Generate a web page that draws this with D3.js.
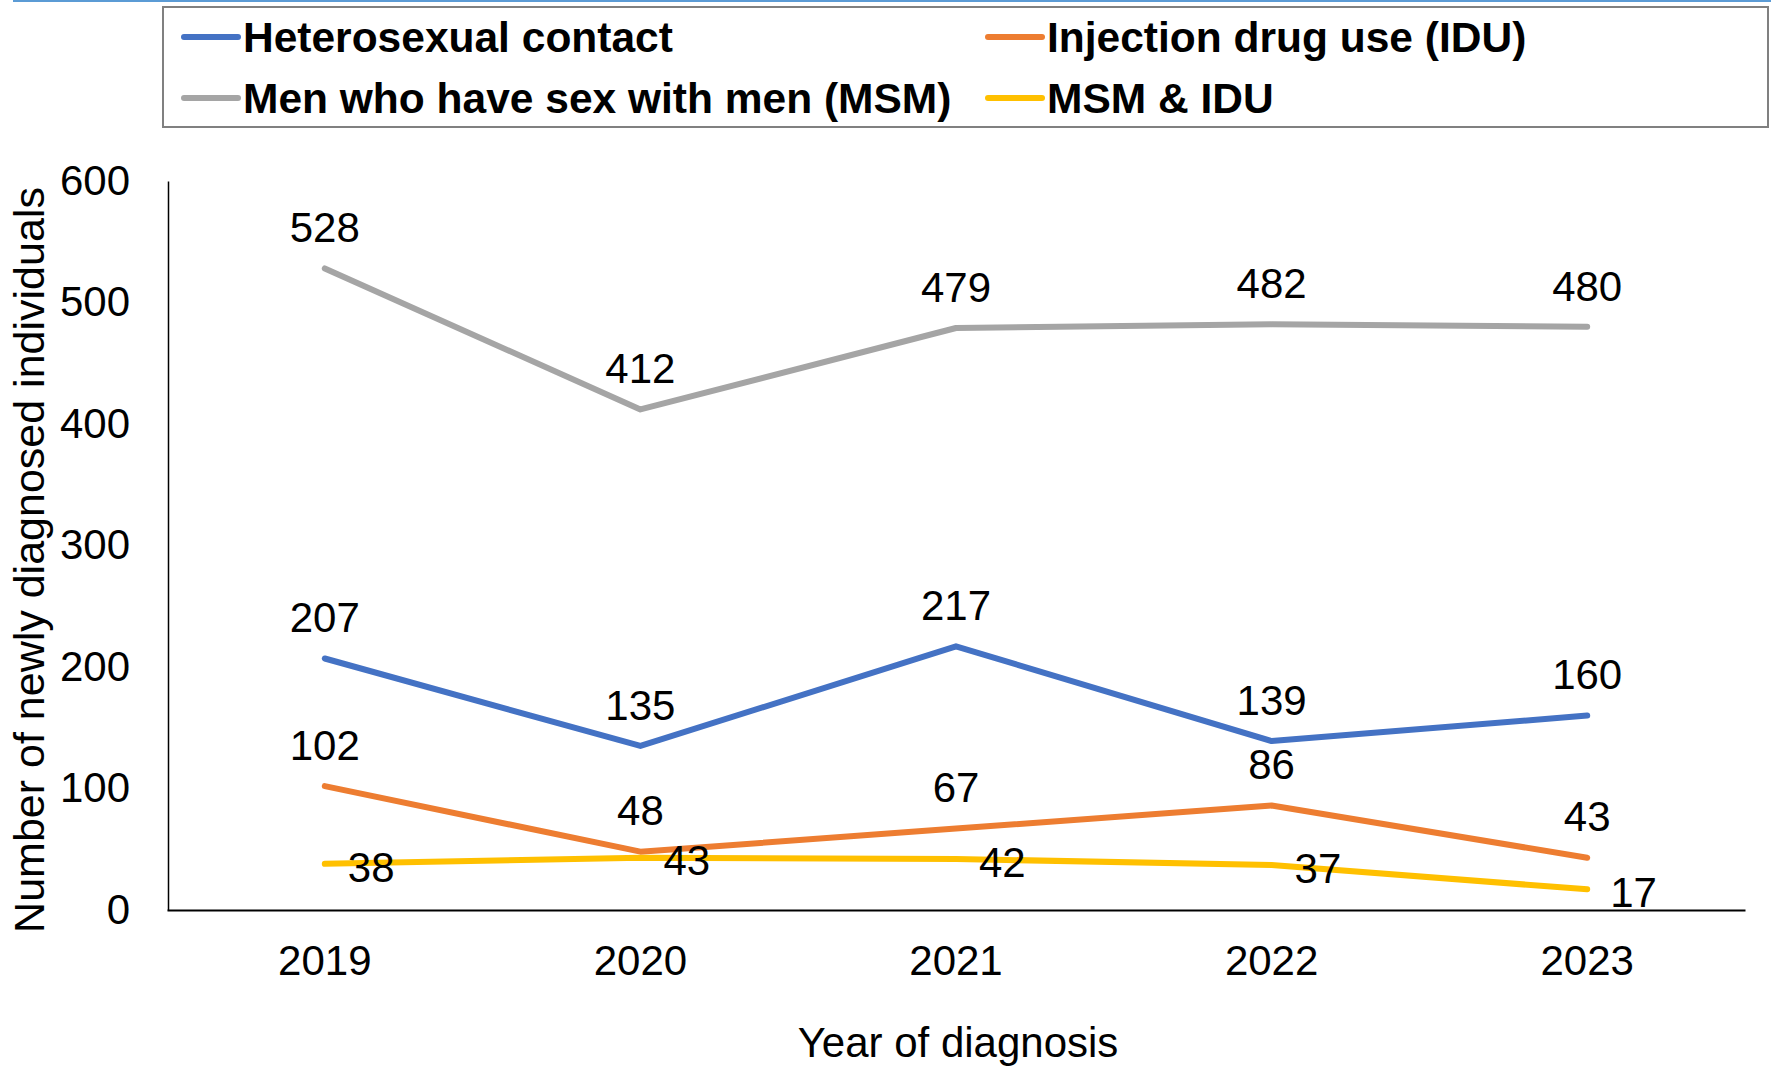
<!DOCTYPE html>
<html>
<head>
<meta charset="utf-8">
<script src="https://cdn.jsdelivr.net/npm/d3@7"></script>
<style>
  body { margin: 0; background: #fff; }
  svg { display: block; font-family: "Liberation Sans", Arial, sans-serif; }
</style>
</head>
<body>
<div id="chart"></div>
<script>
var years = ["2019", "2020", "2021", "2022", "2023"];
var seriesNames = ["Heterosexual contact", "Injection drug use (IDU)", "Men who have sex with men (MSM)", "MSM & IDU"];
var hetero = [207, 135, 217, 139, 160];
var idu = [102, 48, 67, 86, 43];
var msm = [528, 412, 479, 482, 480];
var msmIdu = [38, 43, 42, 37, 17];
var yTicks = [0, 100, 200, 300, 400, 500, 600];

var colors = ["#4472C4", "#ED7D31", "#A5A5A5", "#FFC000"];
var labelPos = ["top", "top", "top", "right"];
var allValues = [hetero, idu, msm, msmIdu];

var svgWidth = 1771, svgHeight = 1066;
var svg = d3.select("#chart").append("svg")
  .attr("width", svgWidth)
  .attr("height", svgHeight);

// thin rule at the very top
svg.append("line")
  .attr("x1", 13).attr("x2", svgWidth)
  .attr("y1", 1).attr("y2", 1)
  .attr("stroke", "#5B9BD5").attr("stroke-width", 2);

var x = d3.scaleBand().domain(years).range([167, 1745]).padding(0);
var y = d3.scaleLinear().domain([0, 600]).range([910, 181]);

// axes
var yAxis = svg.append("g")
  .attr("transform", "translate(168,0)")
  .call(d3.axisLeft(y).tickValues(yTicks).tickSize(0).tickPadding(38));
yAxis.select(".domain").attr("stroke", "#000").attr("stroke-width", 1.5);
yAxis.selectAll("text")
  .attr("font-size", 42).attr("fill", "#000")
  .attr("font-family", "Liberation Sans, Arial, sans-serif");

var xAxis = svg.append("g")
  .attr("transform", "translate(0,910)")
  .call(d3.axisBottom(x).tickSize(0).tickPadding(35));
xAxis.select(".domain").attr("stroke", "#000").attr("stroke-width", 2);
xAxis.selectAll("text")
  .attr("font-size", 42).attr("fill", "#000")
  .attr("font-family", "Liberation Sans, Arial, sans-serif");

// axis titles
svg.append("text")
  .attr("transform", "translate(44,560) rotate(-90)")
  .attr("text-anchor", "middle")
  .attr("font-size", 43)
  .text("Number of newly diagnosed individuals");

svg.append("text")
  .attr("x", 958).attr("y", 1057)
  .attr("text-anchor", "middle")
  .attr("font-size", 42)
  .text("Year of diagnosis");

// lines
var line = d3.line()
  .x(function(d, i) { return x(years[i]) + x.bandwidth() / 2; })
  .y(function(d) { return y(d); });

allValues.forEach(function(vals, s) {
  svg.append("path")
    .datum(vals)
    .attr("d", line)
    .attr("fill", "none")
    .attr("stroke", colors[s])
    .attr("stroke-width", 6)
    .attr("stroke-linecap", "round")
    .attr("stroke-linejoin", "round");
});

// data labels
allValues.forEach(function(vals, s) {
  svg.append("g").selectAll("text")
    .data(vals)
    .enter().append("text")
    .attr("x", function(d, i) {
      var cx = x(years[i]) + x.bandwidth() / 2;
      return labelPos[s] == "right" ? cx + 23 : cx;
    })
    .attr("y", function(d) {
      return labelPos[s] == "right" ? y(d) + 3 : y(d) - 41;
    })
    .attr("dy", "0.35em")
    .attr("text-anchor", labelPos[s] == "right" ? "start" : "middle")
    .attr("font-size", 42)
    .attr("fill", "#000")
    .text(function(d) { return d; });
});

// legend
svg.append("rect")
  .attr("x", 163).attr("y", 7)
  .attr("width", 1605).attr("height", 120)
  .attr("fill", "#fff")
  .attr("stroke", "#808080").attr("stroke-width", 2);

var legendCols = [184, 988];
var legendRows = [37, 98];
var legendOrder = [0, 1, 2, 3];
var legend = svg.append("g").selectAll("g")
  .data(legendOrder)
  .enter().append("g")
  .attr("transform", function(d, i) {
    return "translate(" + legendCols[i % 2] + "," + legendRows[Math.floor(i / 2)] + ")";
  });
legend.append("line")
  .attr("x1", 0).attr("x2", 54)
  .attr("stroke", function(d) { return colors[d]; })
  .attr("stroke-width", 6)
  .attr("stroke-linecap", "round");
legend.append("text")
  .attr("x", 59)
  .attr("dy", "0.35em")
  .attr("font-size", 42.5)
  .attr("font-weight", "bold")
  .text(function(d) { return seriesNames[d]; });
</script>
</body>
</html>
